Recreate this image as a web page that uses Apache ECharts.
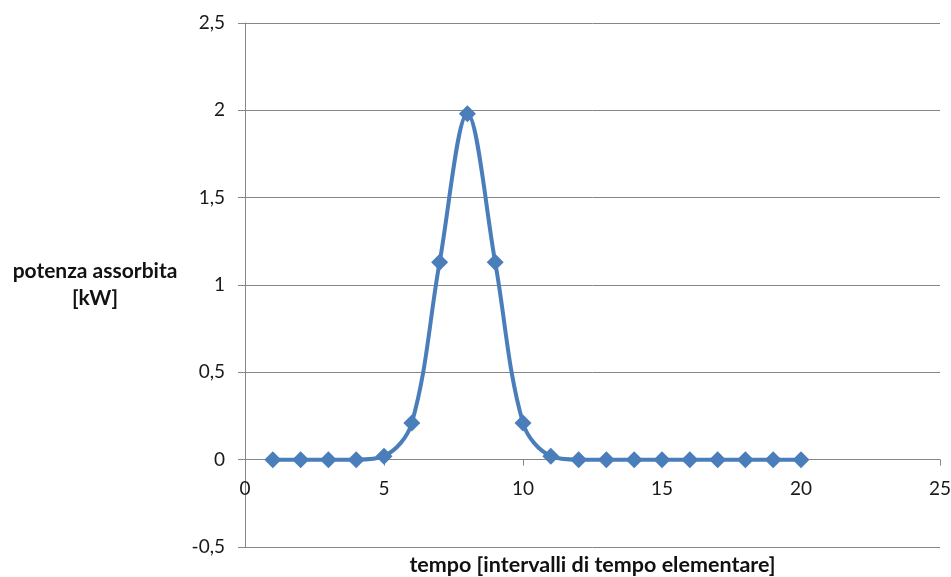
<!DOCTYPE html>
<html>
<head>
<meta charset="utf-8">
<script src="https://cdn.jsdelivr.net/npm/echarts@6/dist/echarts.min.js"></script>
<style>
html,body{margin:0;padding:0;background:#fff;}
#chart{width:951px;height:577px;}
</style>
</head>
<body>
<div id="chart"></div>
<script>
const xValues = [1,2,3,4,5,6,7,8,9,10,11,12,13,14,15,16,17,18,19,20];
const powerValues = [0,0,0,0,0.02,0.21,1.13,1.98,1.13,0.21,0.02,0,0,0,0,0,0,0,0,0];
const xAxisTitle = 'tempo [intervalli di tempo elementare]';
const yAxisTitle = 'potenza assorbita\n[kW]';

const FONT = 'Lato, "Open Sans", sans-serif';
const GRID_TOP = 23, GRID_BOTTOM = 30, H = 577;
const Y_MIN = -0.5, Y_MAX = 2.5;
// shift the x axis (with its labels) up to the y = 0 line
const zeroOffset = -(H - GRID_TOP - GRID_BOTTOM) * (0 - Y_MIN) / (Y_MAX - Y_MIN);

const chart = echarts.init(document.getElementById('chart'), null, {renderer:'canvas'});
chart.setOption({
  animation:false,
  backgroundColor:'#fff',
  grid:{left:245, right:11, top:GRID_TOP, bottom:GRID_BOTTOM, containLabel:false, outerBoundsMode:'none'},
  graphic:[{
    type:'text', x:95, y:285,
    style:{text:yAxisTitle, fill:'#111', font:'bold 21px ' + FONT, align:'center', verticalAlign:'middle', lineHeight:27}
  }],
  xAxis:{
    type:'value', min:0, max:25, interval:5,
    offset:zeroOffset,
    axisLine:{show:true, onZero:false, lineStyle:{color:'#868686', width:1}},
    axisTick:{show:true, inside:false, length:6, lineStyle:{color:'#868686'}},
    axisLabel:{color:'#1a1a1a', fontSize:19, fontFamily:FONT, margin:20},
    splitLine:{show:false},
    name:xAxisTitle, nameLocation:'middle', nameGap:94,
    nameTextStyle:{color:'#111', fontSize:21.5, fontWeight:'bold', fontFamily:FONT}
  },
  yAxis:{
    type:'value', min:Y_MIN, max:Y_MAX, interval:0.5,
    axisLine:{show:true, lineStyle:{color:'#868686', width:1}},
    axisTick:{show:true, inside:false, length:7, lineStyle:{color:'#868686'}},
    axisLabel:{color:'#1a1a1a', fontSize:19, fontFamily:FONT, margin:20,
      formatter:v=>String(v).replace('.',',')},
    splitLine:{show:true, lineStyle:{color:'#868686', width:1}}
  },
  series:[{
    type:'line',
    data:xValues.map((x,i)=>[x,powerValues[i]]),
    smooth:0.35,
    symbol:'diamond', symbolSize:17,
    lineStyle:{color:'#4a7ebb', width:4},
    itemStyle:{color:'#4a7ebb'}
  }]
});
</script>
</body>
</html>
